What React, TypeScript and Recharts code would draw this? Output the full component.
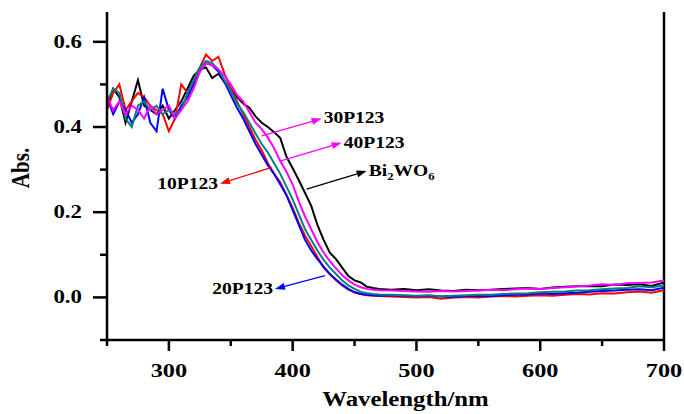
import { LineChart, Line, XAxis, YAxis, ReferenceLine } from 'recharts';

const wavelengths = [
  250, 255, 260, 265, 270, 275, 280, 285, 290, 295, 300, 305, 310, 315, 320, 325, 330, 335, 340, 345,
  350, 355, 360, 365, 370, 375, 380, 385, 390, 395, 400, 405, 410, 415, 420, 425, 430, 435, 440, 445,
  450, 455, 460, 465, 470, 480, 490, 500, 510, 520, 530, 540, 550, 560, 570, 580, 590, 600, 610, 620,
  630, 640, 650, 660, 670, 680, 690, 700,
];

const bi2wo6 = [
  0.45, 0.49, 0.47, 0.41, 0.46, 0.51, 0.45, 0.44, 0.43, 0.45, 0.42, 0.44, 0.46, 0.49, 0.52, 0.535, 0.54, 0.515, 0.525, 0.505,
  0.49, 0.47, 0.455, 0.445, 0.425, 0.41, 0.4, 0.388, 0.374, 0.33, 0.303, 0.275, 0.245, 0.215, 0.17, 0.135, 0.105, 0.09, 0.07, 0.05,
  0.04, 0.035, 0.025, 0.022, 0.02, 0.018, 0.02, 0.017, 0.019, 0.016, 0.015, 0.018, 0.017, 0.018, 0.02, 0.021, 0.022, 0.02, 0.023, 0.025,
  0.026, 0.027, 0.026, 0.03, 0.029, 0.031, 0.027, 0.035,
];

const p10 = [
  0.44, 0.48, 0.5, 0.44, 0.46, 0.48, 0.47, 0.45, 0.44, 0.43, 0.39, 0.42, 0.5, 0.48, 0.51, 0.54, 0.57, 0.555, 0.565, 0.525,
  0.49, 0.46, 0.43, 0.4, 0.37, 0.345, 0.315, 0.29, 0.27, 0.24, 0.21, 0.175, 0.145, 0.12, 0.095, 0.07, 0.055, 0.04, 0.028, 0.018,
  0.012, 0.008, 0.005, 0.004, 0.003, 0.002, 0.001, 0.0, 0.001, -0.003, 0.0, 0.001, 0.0, 0.002, 0.003, 0.002, 0.004, 0.005, 0.004, 0.006,
  0.008, 0.007, 0.01, 0.009, 0.012, 0.014, 0.011, 0.017,
];

const p20 = [
  0.47, 0.43, 0.46, 0.44, 0.41, 0.43, 0.47, 0.41, 0.39, 0.49, 0.44, 0.42, 0.45, 0.47, 0.5, 0.53, 0.55, 0.545, 0.53, 0.505,
  0.475, 0.445, 0.42, 0.39, 0.36, 0.335, 0.31, 0.29, 0.265, 0.24, 0.205, 0.17, 0.135, 0.11, 0.09, 0.072, 0.055, 0.042, 0.03, 0.02,
  0.012, 0.008, 0.006, 0.005, 0.004, 0.005, 0.004, 0.003, 0.004, 0.002, 0.001, 0.003, 0.004, 0.003, 0.005, 0.006, 0.007, 0.009, 0.008, 0.01,
  0.011, 0.013, 0.015, 0.016, 0.018, 0.019, 0.017, 0.023,
];

const p30 = [
  0.46, 0.49, 0.48, 0.42, 0.4, 0.45, 0.46, 0.44, 0.45, 0.43, 0.44, 0.43, 0.44, 0.48, 0.51, 0.54, 0.555, 0.55, 0.535, 0.51,
  0.485, 0.455, 0.435, 0.41, 0.385, 0.36, 0.34, 0.315, 0.29, 0.26, 0.23, 0.195, 0.16, 0.135, 0.11, 0.088, 0.07, 0.055, 0.04, 0.028,
  0.02, 0.013, 0.01, 0.008, 0.007, 0.006, 0.005, 0.004, 0.005, 0.003, 0.004, 0.005, 0.006, 0.006, 0.008, 0.009, 0.01, 0.012, 0.013, 0.014,
  0.016, 0.017, 0.019, 0.021, 0.022, 0.026, 0.024, 0.028,
];

const p40 = [
  0.47, 0.44, 0.46, 0.43, 0.45, 0.44, 0.42, 0.45, 0.43, 0.44, 0.45, 0.42, 0.44, 0.46, 0.49, 0.53, 0.55, 0.545, 0.535, 0.52,
  0.5, 0.475, 0.46, 0.435, 0.41, 0.395, 0.375, 0.35, 0.32, 0.295, 0.265, 0.225, 0.19, 0.16, 0.13, 0.105, 0.085, 0.068, 0.052, 0.04,
  0.03, 0.024, 0.02, 0.018, 0.017, 0.016, 0.015, 0.014, 0.013, 0.015, 0.014, 0.015, 0.016, 0.018, 0.017, 0.019, 0.021, 0.02, 0.022, 0.024,
  0.026, 0.028, 0.031, 0.029, 0.033, 0.034, 0.035, 0.04,
];

const xTicks = [250, 300, 350, 400, 450, 500, 550, 600, 650, 700];
const yTicks = [-0.1, 0, 0.1, 0.2, 0.3, 0.4, 0.5, 0.6];

const data = wavelengths.map((w, i) => ({
  w,
  bi2wo6: bi2wo6[i],
  p10: p10[i],
  p20: p20[i],
  p30: p30[i],
  p40: p40[i],
}));

const series = [
  { key: 'bi2wo6', color: '#000000' },
  { key: 'p10', color: '#ff0000' },
  { key: 'p20', color: '#0000ff' },
  { key: 'p30', color: '#008080' },
  { key: 'p40', color: '#ff00ff' },
];

// arrows: from the curve to the label, in data units
const notes = [
  { text: '30P123', from: [375, 0.379], to: [423.4, 0.42], color: '#ff00ff', side: 'right' },
  { text: '40P123', from: [389.7, 0.32], to: [439.6, 0.363], color: '#ff00ff', side: 'right' },
  { text: 'Bi2WO6', from: [411.3, 0.254], to: [459.8, 0.297], color: '#000000', side: 'right' },
  { text: '10P123', from: [383, 0.305], to: [341.3, 0.267], color: '#ff0000', side: 'left' },
  { text: '20P123', from: [426.1, 0.051], to: [385.7, 0.02], color: '#0000ff', side: 'left' },
];

const FONT = '"Liberation Serif", "Times New Roman", serif';

const XTick = (props: any) => {
  const { x, y, payload } = props;
  const major = payload.value % 100 === 0;
  return (
    <g>
      <line x1={x} y1={y} x2={x} y2={y + (major ? 11 : 6)} stroke="#000" strokeWidth={2.5} />
      {major && (
        <text
          transform={`translate(${x},${y + 37}) scale(1.35,1)`}
          textAnchor="middle"
          fontFamily={FONT}
          fontWeight="bold"
          fontSize={18}
          fill="#000"
        >
          {payload.value}
        </text>
      )}
    </g>
  );
};

const YTick = (props: any) => {
  const { x, y, payload } = props;
  const major = Math.round(payload.value * 10) % 2 === 0;
  return (
    <g>
      <line x1={x} y1={y} x2={x - (major ? 14 : 7)} y2={y} stroke="#000" strokeWidth={2.5} />
      {major && (
        <text
          transform={`translate(${x - 25},${y + 6}) scale(1.27,1)`}
          textAnchor="end"
          fontFamily={FONT}
          fontWeight="bold"
          fontSize={18}
          fill="#000"
        >
          {payload.value.toFixed(1)}
        </text>
      )}
    </g>
  );
};

const arrowShape = (note: any) => (props: any) => {
  const { x1, y1, x2, y2 } = props;
  const dx = x2 - x1;
  const dy = y2 - y1;
  const len = Math.sqrt(dx * dx + dy * dy) || 1;
  const ux = dx / len;
  const uy = dy / len;
  const hl = 10;
  const hw = 3.5;
  const bx = x2 - ux * hl;
  const by = y2 - uy * hl;
  const pts = `${x2},${y2} ${bx - uy * hw},${by + ux * hw} ${bx + uy * hw},${by - ux * hw}`;
  const right = note.side === 'right';
  const tx = right ? x2 + 2 : x2 - 2;
  const ty = y2 + 5;
  return (
    <g>
      <line x1={x1} y1={y1} x2={bx} y2={by} stroke={note.color} strokeWidth={1.3} />
      <polygon points={pts} fill={note.color} />
      <text
        transform={`translate(${tx},${ty}) scale(1.15,1)`}
        textAnchor={right ? 'start' : 'end'}
        fontFamily={FONT}
        fontWeight="bold"
        fontSize={17}
        fill="#000"
      >
        {note.text === 'Bi2WO6' ? (
          <>
            Bi<tspan fontSize={11} dy={4}>2</tspan>
            <tspan dy={-4}>WO</tspan>
            <tspan fontSize={11} dy={4}>6</tspan>
          </>
        ) : (
          note.text
        )}
      </text>
    </g>
  );
};

export default function App() {
  return (
    <div style={{ position: 'absolute', left: 0, top: 0, width: 684, height: 414, background: '#fff' }}>
      <LineChart width={684} height={414} data={data} margin={{ top: 12, right: 20, bottom: 0, left: 0 }}>
        <XAxis
          dataKey="w"
          type="number"
          domain={[250, 700]}
          ticks={xTicks}
          height={74}
          tickSize={0}
          tickMargin={0}
          tick={XTick}
          tickLine={false}
          axisLine={{ stroke: '#000', strokeWidth: 2.5 }}
          allowDataOverflow
          label={{
            content: (p: any) => {
              const vb = p.viewBox;
              return (
                <text
                  transform={`translate(${vb.x + vb.width / 2 + 20},${vb.y + 66}) scale(1.18,1)`}
                  textAnchor="middle"
                  fontFamily={FONT}
                  fontWeight="bold"
                  fontSize={21}
                  fill="#000"
                >
                  Wavelength/nm
                </text>
              );
            },
          }}
        />
        <YAxis
          type="number"
          domain={[-0.1, 0.67]}
          ticks={yTicks}
          width={107}
          tickSize={0}
          tickMargin={0}
          tick={YTick}
          tickLine={false}
          axisLine={{ stroke: '#000', strokeWidth: 2.5 }}
          allowDataOverflow
          label={{
            content: (p: any) => {
              const vb = p.viewBox;
              return (
                <text
                  transform={`translate(${vb.x + 29},${vb.y + 156}) rotate(-90) scale(1,1.2)`}
                  textAnchor="middle"
                  fontFamily={FONT}
                  fontWeight="bold"
                  fontSize={21}
                  fill="#000"
                >
                  Abs.
                </text>
              );
            },
          }}
        />
        <ReferenceLine x={700} stroke="#000" strokeWidth={2.5} />
        {series.map((s) => (
          <Line
            key={s.key}
            dataKey={s.key}
            stroke={s.color}
            strokeWidth={2}
            dot={false}
            isAnimationActive={false}
          />
        ))}
        {notes.map((n) => (
          <ReferenceLine
            key={n.text}
            segment={[
              { x: n.from[0], y: n.from[1] },
              { x: n.to[0], y: n.to[1] },
            ]}
            shape={arrowShape(n)}
          />
        ))}
      </LineChart>
    </div>
  );
}
